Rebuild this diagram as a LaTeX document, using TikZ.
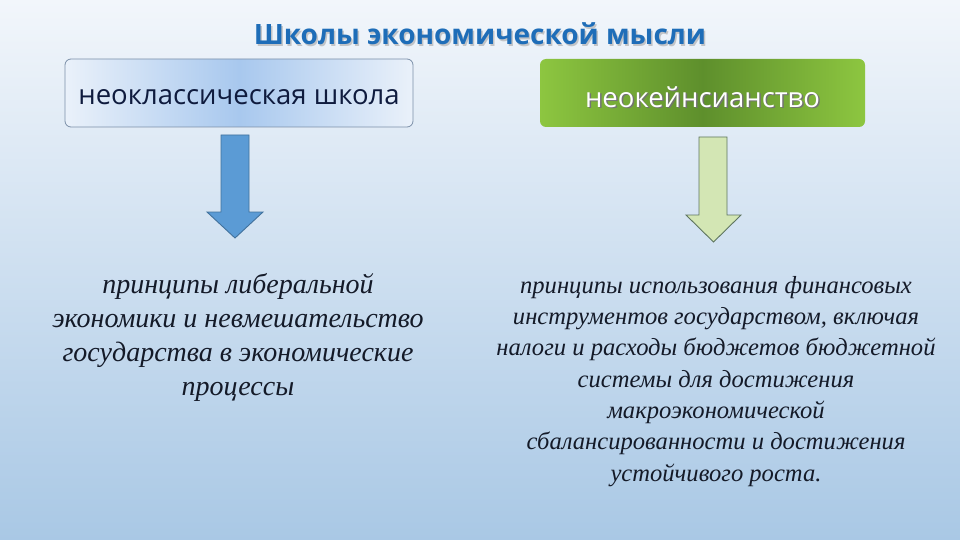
\documentclass[tikz,border=0pt]{standalone}
\usepackage{fontspec}
\setmainfont{Liberation Serif}
\newfontfamily\titlefont{Open Sans}
\newfontfamily\boxfont{Open Sans}
\definecolor{bgtop}{HTML}{F2F6FB}
\definecolor{bgbot}{HTML}{A9C8E5}
\definecolor{titleblue}{HTML}{1E6DB8}
\definecolor{navy}{HTML}{0F1B3E}
\definecolor{blueedge}{HTML}{EAF1FA}
\definecolor{bluemid}{HTML}{A8C8EE}
\definecolor{boxborder}{HTML}{7B8FA8}
\definecolor{greenedge}{HTML}{8DC640}
\definecolor{greenmid}{HTML}{5E8F2C}
\definecolor{arrowblue}{HTML}{5B9BD5}
\definecolor{arrowblueline}{HTML}{41719C}
\definecolor{arrowgreen}{HTML}{D3E6B4}
\definecolor{arrowgreenline}{HTML}{5E7560}
\definecolor{bodytext}{HTML}{141A28}
\tikzset{
  headbox/.style={minimum width=#1, minimum height=68pt, rounded corners=6pt, inner sep=0pt},
  bluebox/.style={headbox=348pt, draw=boxborder, line width=0.8pt, left color=blueedge, right color=blueedge, middle color=bluemid},
  greenbox/.style={headbox=325pt, draw=none, left color=greenedge, right color=greenedge, middle color=greenmid},
  boxlabel/.style={font=\boxfont\fontsize{27.5}{30}\selectfont},
  bodytxt/.style={align=center, text=bodytext, inner sep=0pt},
  downarrow/.style={line width=0.9pt, line join=miter}
}
\begin{document}
\begin{tikzpicture}[x=1pt,y=-1pt]
\useasboundingbox (0,0) rectangle (960,540);
\shade[top color=bgtop, bottom color=bgbot] (0,0) rectangle (960,540);
% title
\node[font=\titlefont\bfseries\fontsize{28}{32}\selectfont, text=black!35, opacity=0.6] at (481.5,35.5) {Школы экономической мысли};
\node (title) [font=\titlefont\bfseries\fontsize{28}{32}\selectfont, text=titleblue] at (480,34) {Школы экономической мысли};
% header boxes
\node (neo) [bluebox] at (239,93) {};
\node[boxlabel, text=navy] at (239,97) {неоклассическая школа};
\node (keyn) [greenbox] at (702.5,93) {};
\node[boxlabel, text=black!55] at (704,98.5) {неокейнсианство};
\node[boxlabel, text=white] at (702.5,97) {неокейнсианство};
% arrows
\draw[downarrow, fill=arrowblue, draw=arrowblueline]
  (221,135) -- (249,135) -- (249,212) -- (263,212) -- (235,238) -- (207,212) -- (221,212) -- cycle;
\draw[downarrow, fill=arrowgreen, draw=arrowgreenline]
  (699,137) -- (727,137) -- (727,215) -- (741,215) -- (713.5,242) -- (686,215) -- (699,215) -- cycle;
% body texts
\node (left) [bodytxt, anchor=north] at (238,273) {%
  \parbox{440pt}{\centering\itshape\fontsize{28}{34}\selectfont
  принципы либеральной\\
  экономики и невмешательство\\
  государства в экономические\\
  процессы}};
\node (right) [bodytxt, anchor=north] at (716,276) {%
  \parbox{470pt}{\centering\itshape\fontsize{24.6}{31.3}\selectfont
  принципы использования финансовых\\
  инструментов государством, включая\\
  налоги и расходы бюджетов бюджетной\\
  системы для достижения\\
  макроэкономической\\
  сбалансированности и достижения\\
  устойчивого роста.}};
\end{tikzpicture}
\end{document}
